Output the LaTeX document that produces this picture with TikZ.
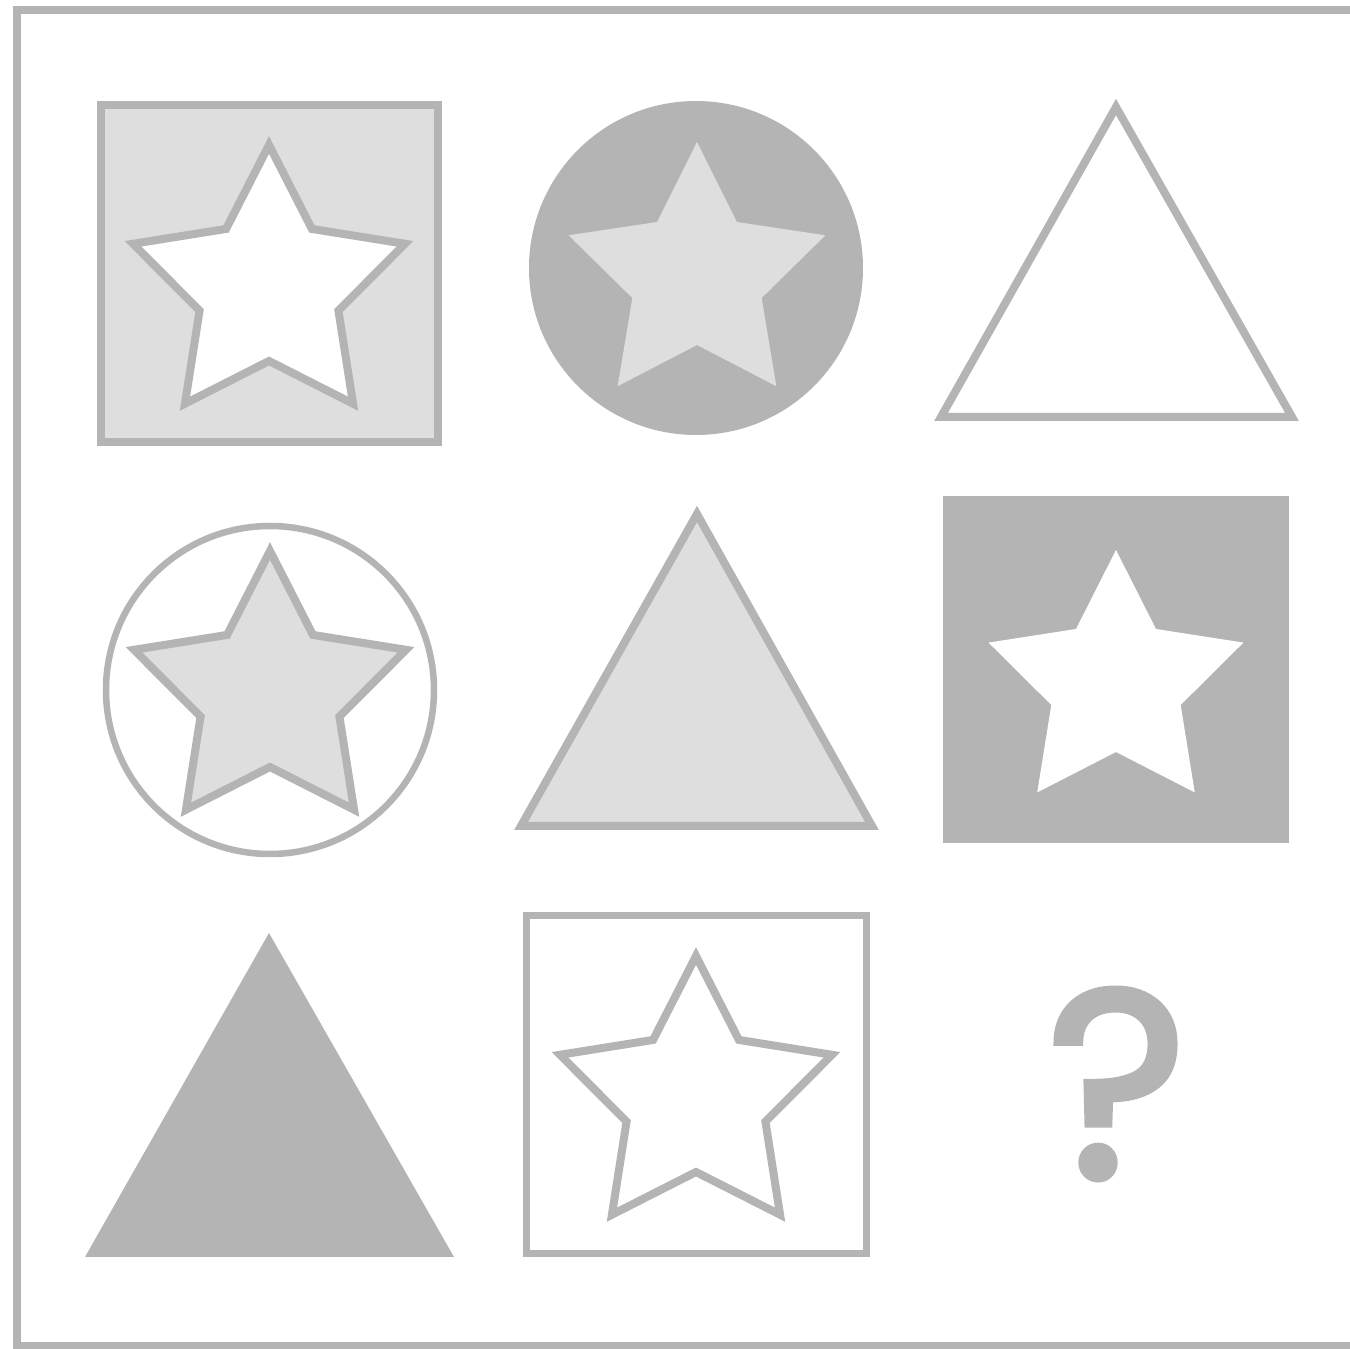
\documentclass[tikz,border=0pt]{standalone}
\usepackage{fontspec}
\newfontfamily\qfont{Poppins}[FakeBold=2.5]
\definecolor{gr}{RGB}{180,180,180}
\definecolor{lt}{RGB}{222,222,222}
\tikzset{
  pics/starp/.style 2 args={code={
    \path[pic actions] (270:#1) -- (306:#2) -- (342:#1) -- (18:#2) -- (54:#1)
      -- (90:#2) -- (126:#1) -- (162:#2) -- (198:#1) -- (234:#2) -- cycle;}},
  outl/.style={draw=gr, line width=0.08cm, line join=miter},
  thin/.style={draw=gr, line width=0.065cm},
}
\begin{document}
\begin{tikzpicture}[x=0.01cm, y=-0.01cm]
\useasboundingbox (0,0) rectangle (1350,1349);
\fill[white] (0,0) rectangle (1350,1349);
% outer frame
\draw[gr, line width=0.075cm] (1360,10) -- (17,10) -- (17,1346) -- (1360,1346);
% row 1
\draw[outl, fill=lt] (101,105) rectangle (438,442);
\pic[outl, fill=white] at (269,288) {starp={143}{73}};
\fill[gr] (696,268) circle (167);
\pic[fill=lt] at (697,277) {starp={135}{68}};
\draw[outl, fill=white] (1116,107) -- (1292,417) -- (941,417) -- cycle;
% row 2
\draw[thin, fill=white] (270,690) circle (164);
\pic[outl, fill=lt] at (270,694) {starp={143}{73}};
\draw[outl, fill=lt] (697,514) -- (872,826) -- (521,826) -- cycle;
\fill[gr] (943,496) rectangle (1289,843);
\pic[fill=white] at (1116,684) {starp={134}{68}};
% row 3
\fill[gr] (269,933) -- (454,1257) -- (85,1257) -- cycle;
\draw[outl, line width=0.07cm, fill=white] (526.5,915.5) rectangle (866.5,1253.5);
\pic[outl, fill=white] at (696,1099) {starp={143}{73}};
\node[text=gr, inner sep=0pt, font=\qfont\fontsize{76}{76}\selectfont] (q) at (1117,1084) {?};
\end{tikzpicture}
\end{document}
